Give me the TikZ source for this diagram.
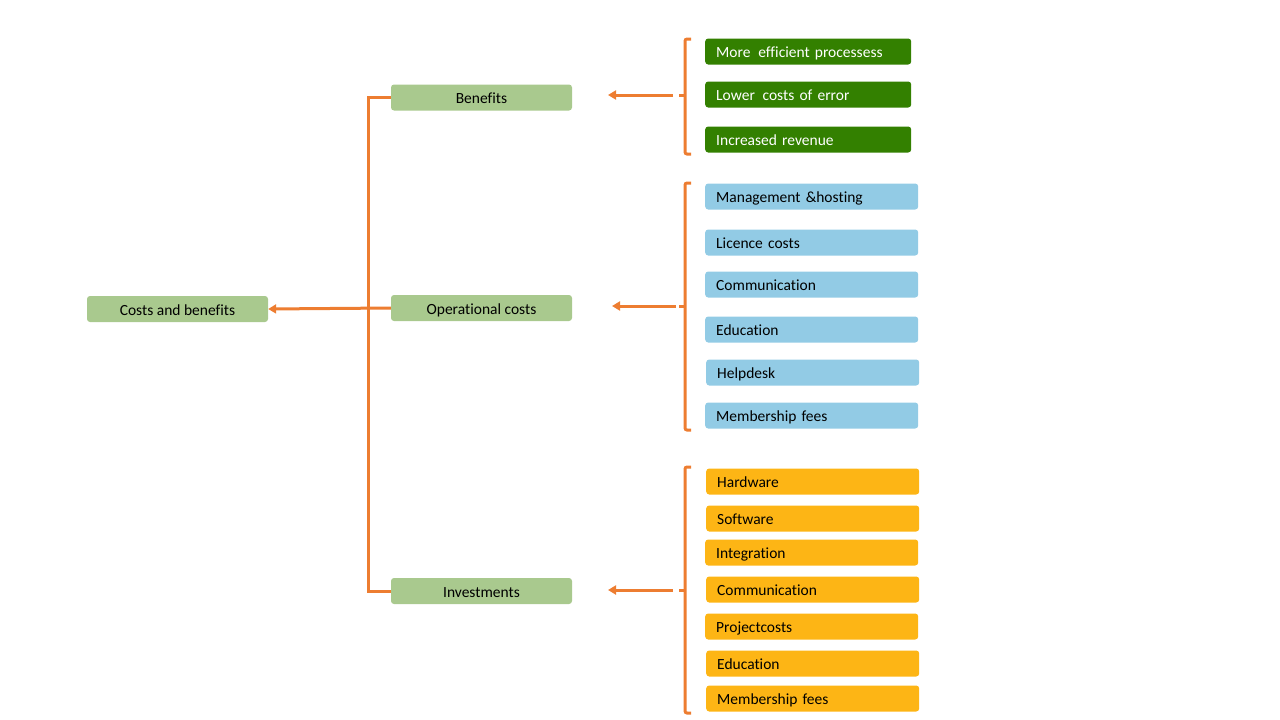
\documentclass[tikz,border=0pt]{standalone}
\usepackage{fontspec}
\setmainfont[Ligatures=NoCommon]{Carlito}
\usetikzlibrary{arrows.meta}
\definecolor{linkorange}{RGB}{237,125,49}
\definecolor{groupgreen}{RGB}{169,201,142}
\definecolor{benefitgreen}{RGB}{51,128,0}
\definecolor{opsblue}{RGB}{146,203,229}
\definecolor{investorange}{RGB}{253,181,21}
\tikzset{
  box/.style={rounded corners=3pt, minimum height=26pt, inner sep=0pt, text height=13pt, text depth=1pt, font=\fontsize{15.5}{18}\selectfont},
  group/.style={box, fill=groupgreen, minimum width=181pt},
  item/.style={box, anchor=west, inner xsep=11pt, align=left},
  benefit/.style={item, fill=benefitgreen, text=white, text width=184pt},
  opscost/.style={item, fill=opsblue, text width=191pt},
  invest/.style={item, fill=investorange, text width=191pt},
  link/.style={draw=linkorange, line width=3pt},
  bracket/.style={link, rounded corners=2pt},
  pointer/.style={link, -{Triangle[length=8pt,width=9pt]}}
}
\begin{document}
\begin{tikzpicture}[x=1pt,y=-1pt]
  \useasboundingbox (0,0) rectangle (1280,720);
      \node[group] (total) at (177.5,309) {Costs and benefits};
      \node[group] (ben) at (481.5,97.5) {Benefits};
      \node[group] (ops) at (481.5,308) {Operational costs};
      \node[group] (inv) at (481.5,591) {Investments};

      \draw[link] (ben.west) -- (368,97.5) |- (inv.west);
      \draw[pointer] (ops.west) -- (total.east);

      % benefits
      \node[benefit] (b1) at (705,51.5) {More\, efficient processess};
      \node[benefit] (b2) at (705,94.5) {Lower\, costs of error};
      \node[benefit] (b3) at (705,139.5) {Increased revenue};
      \draw[bracket] (691,39) -- (685,39) -- (685,154) -- (691,154);
      \draw[link] (685,95) -- (679,95);
      \coordinate (bentip) at (673,95);
      \coordinate (benend) at (608,95);
      \draw[pointer] (bentip) -- (benend);

      % operational costs
      \node[opscost] (o1) at (705,196.5) {Management \&hosting};
      \node[opscost] (o2) at (705,242.5) {Licence costs};
      \node[opscost] (o3) at (705,284.5) {Communication};
      \node[opscost] (o4) at (705,329.5) {Education};
      \node[opscost] (o5) at (706,372.5) {Helpdesk};
      \node[opscost] (o6) at (705,415.5) {Membership fees};
      \draw[bracket] (691,183) -- (685,183) -- (685,430) -- (691,430);
      \draw[link] (685,306) -- (679,306);
      \coordinate (opstip) at (676,306);
      \coordinate (opsend) at (612,306);
      \draw[pointer] (opstip) -- (opsend);

      % investments
      \node[invest] (i1) at (706,481.5) {Hardware};
      \node[invest] (i2) at (706,518.5) {Software};
      \node[invest] (i3) at (705,552.5) {Integration};
      \node[invest] (i4) at (706,589.5) {Communication};
      \node[invest] (i5) at (705,626.5) {Projectcosts};
      \node[invest] (i6) at (706,663.5) {Education};
      \node[invest] (i7) at (706,698.5) {Membership fees};
      \draw[bracket] (691,467) -- (685,467) -- (685,713) -- (691,713);
      \draw[link] (685,590) -- (679,590);
      \coordinate (invtip) at (673,590);
      \coordinate (invend) at (608,590);
      \draw[pointer] (invtip) -- (invend);

      \end{tikzpicture}
\end{document}
